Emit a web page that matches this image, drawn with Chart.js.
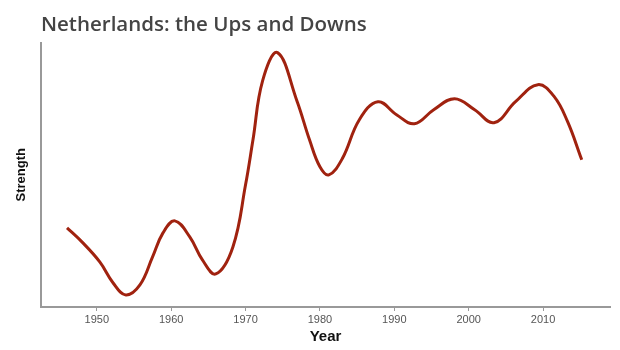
<!DOCTYPE html>
<html lang="en">
<head>
    <meta charset="UTF-8">
    <title>Netherlands: the Ups and Downs</title>
    <script src="https://cdn.jsdelivr.net/npm/chart.js"></script>
    <style>
        body { margin: 0; padding: 0; background: #fff; }
        .chart-container { width: 620px; height: 350px; }
    </style>
</head>
<body>
    <div class="chart-container">
        <canvas id="strengthChart"></canvas>
    </div>

    <script>
        // values (strength has no unit on the original)
        const years = [1946, 1948, 1950.4, 1952.2, 1953.9, 1955.8, 1957.5, 1958.9, 1960.5, 1962.5, 1964.2, 1966,
                       1968.3, 1970, 1971, 1972.3, 1974.3, 1976.9, 1978.6, 1980, 1981.2, 1983, 1985.3, 1987.8,
                       1990.3, 1992.7, 1995.3, 1998.1, 2000.8, 2003.4, 2006.3, 2009.3, 2011.5, 2013.3, 2015.2];
        const strength = [79, 65, 45, 24, 12, 22, 50, 74, 86, 70, 47, 33,
                          60, 122, 167, 226, 254, 206, 167, 140, 132, 148, 187, 205,
                          192, 183, 197, 208, 197, 184, 205, 222, 210, 185, 147];
        const tickYears = [1950, 1960, 1970, 1980, 1990, 2000, 2010];

        const points = years.map((y, i) => ({ x: y, y: strength[i] }));

        new Chart(document.getElementById("strengthChart"), {
            type: "line",
            data: {
                datasets: [{
                    data: points,
                    borderColor: "#a0220f",
                    borderWidth: 3,
                    pointRadius: 0,
                    tension: 0.4,
                    fill: false
                }]
            },
            options: {
                responsive: true,
                maintainAspectRatio: false,
                animation: false,
                layout: { padding: { left: 0, right: 10, top: 0, bottom: 0 } },
                plugins: {
                    legend: { display: false },
                    tooltip: { enabled: false },
                    title: {
                        display: true,
                        text: "Netherlands: the Ups and Downs",
                        align: "start",
                        fullSize: false,
                        color: "#444",
                        font: { family: "Open Sans", size: 20.5, weight: "600" },
                        padding: { top: 13, bottom: 5 }
                    }
                },
                scales: {
                    x: {
                        type: "linear",
                        min: 1942.5,
                        max: 2019,
                        afterBuildTicks: axis => { axis.ticks = tickYears.map(v => ({ value: v })); },
                        afterFit: axis => { axis.height = 43; },
                        grid: { drawOnChartArea: false, drawTicks: true, tickLength: 4, color: "#999" },
                        border: { color: "#999", width: 2 },
                        ticks: {
                            callback: v => String(v),
                            color: "#555",
                            padding: 2,
                            maxRotation: 0,
                            font: { family: "Liberation Sans", size: 11 }
                        },
                        title: {
                            display: true,
                            text: "Year",
                            color: "#111",
                            font: { family: "Liberation Sans", size: 15, weight: "bold" },
                            padding: { top: 0, bottom: 4 }
                        }
                    },
                    y: {
                        min: 0,
                        max: 264,
                        afterFit: axis => { axis.width = 41; },
                        grid: { display: false },
                        border: { color: "#999", width: 2 },
                        ticks: { display: false },
                        title: {
                            display: true,
                            text: "Strength",
                            color: "#111",
                            font: { family: "Liberation Sans", size: 13, weight: "bold" },
                            padding: { top: 14, bottom: 0 }
                        }
                    }
                }
            }
        });
    </script>
</body>
</html>
